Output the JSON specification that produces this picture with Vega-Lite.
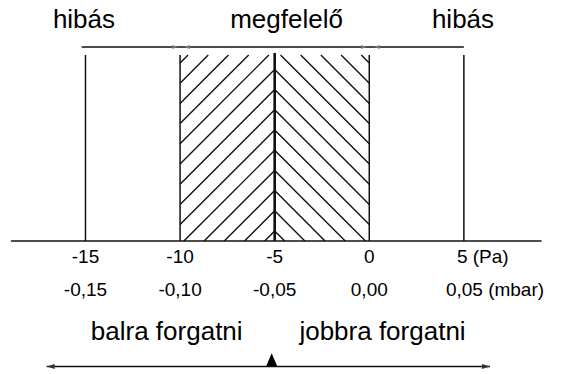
{
  "$schema": "https://vega.github.io/schema/vega-lite/v6.json",
  "width": 564,
  "height": 374,
  "padding": 0,
  "autosize": {"type": "none"},
  "background": "white",
  "config": {"view": {"stroke": null}},
  "datasets": {
    "lines": [
      {"part": "frame", "x": -18.94, "y": 0, "x2": 9.11, "y2": 0},
      {"part": "frame", "x": -15.2, "y": 194, "x2": 5.0, "y2": 194},
      {"part": "frame", "x": -15, "y": 0, "x2": -15, "y2": 186},
      {"part": "frame", "x": 5, "y": 0, "x2": 5, "y2": 186},
      {"part": "frame", "x": -10, "y": 0, "x2": -10, "y2": 186},
      {"part": "frame", "x": 0, "y": 0, "x2": 0, "y2": 186},
      {"part": "frame", "x": -17.05, "y": -125.5, "x2": 6.38, "y2": -125.5},
      {"part": "center", "x": -5, "y": 0, "x2": -5, "y2": 188}
    ],
    "hatch": [
      {"seg": "L0", "x": -5, "y": 10}, {"seg": "L0", "x": -5.529, "y": 0},
      {"seg": "L1", "x": -5, "y": 30.2}, {"seg": "L1", "x": -6.596, "y": 0},
      {"seg": "L2", "x": -5, "y": 50.4}, {"seg": "L2", "x": -7.664, "y": 0},
      {"seg": "L3", "x": -5, "y": 70.6}, {"seg": "L3", "x": -8.731, "y": 0},
      {"seg": "L4", "x": -5, "y": 90.8}, {"seg": "L4", "x": -9.799, "y": 0},
      {"seg": "L5", "x": -5, "y": 111}, {"seg": "L5", "x": -10, "y": 16.4},
      {"seg": "L6", "x": -5, "y": 131.2}, {"seg": "L6", "x": -10, "y": 36.6},
      {"seg": "L7", "x": -5, "y": 151.4}, {"seg": "L7", "x": -10, "y": 56.8},
      {"seg": "L8", "x": -5, "y": 171.6}, {"seg": "L8", "x": -10, "y": 77},
      {"seg": "L9", "x": -5.307, "y": 186}, {"seg": "L9", "x": -10, "y": 97.2},
      {"seg": "L10", "x": -6.374, "y": 186}, {"seg": "L10", "x": -10, "y": 117.4},
      {"seg": "L11", "x": -7.442, "y": 186}, {"seg": "L11", "x": -10, "y": 137.6},
      {"seg": "L12", "x": -8.51, "y": 186}, {"seg": "L12", "x": -10, "y": 157.8},
      {"seg": "L13", "x": -9.577, "y": 186}, {"seg": "L13", "x": -10, "y": 178},
      {"seg": "R0", "x": -5, "y": 10}, {"seg": "R0", "x": -4.471, "y": 0},
      {"seg": "R1", "x": -5, "y": 30.2}, {"seg": "R1", "x": -3.404, "y": 0},
      {"seg": "R2", "x": -5, "y": 50.4}, {"seg": "R2", "x": -2.336, "y": 0},
      {"seg": "R3", "x": -5, "y": 70.6}, {"seg": "R3", "x": -1.269, "y": 0},
      {"seg": "R4", "x": -5, "y": 90.8}, {"seg": "R4", "x": -0.201, "y": 0},
      {"seg": "R5", "x": -5, "y": 111}, {"seg": "R5", "x": 0, "y": 16.4},
      {"seg": "R6", "x": -5, "y": 131.2}, {"seg": "R6", "x": 0, "y": 36.6},
      {"seg": "R7", "x": -5, "y": 151.4}, {"seg": "R7", "x": 0, "y": 56.8},
      {"seg": "R8", "x": -5, "y": 171.6}, {"seg": "R8", "x": 0, "y": 77},
      {"seg": "R9", "x": -4.693, "y": 186}, {"seg": "R9", "x": 0, "y": 97.2},
      {"seg": "R10", "x": -3.626, "y": 186}, {"seg": "R10", "x": 0, "y": 117.4},
      {"seg": "R11", "x": -2.558, "y": 186}, {"seg": "R11", "x": 0, "y": 137.6},
      {"seg": "R12", "x": -1.49, "y": 186}, {"seg": "R12", "x": 0, "y": 157.8},
      {"seg": "R13", "x": -0.423, "y": 186}, {"seg": "R13", "x": 0, "y": 178}
    ],
    "texts": [
      {"role": "big", "label": "hibás", "x": -15.08, "y": 212.7},
      {"role": "big", "label": "megfelelő", "x": -4.375, "y": 212.7},
      {"role": "big", "label": "hibás", "x": 4.953, "y": 212.7},
      {"role": "big", "label": "balra forgatni", "x": -10.707, "y": -99},
      {"role": "big", "label": "jobbra forgatni", "x": 0.699, "y": -99},
      {"role": "tick", "label": "-15", "x": -15, "y": -22},
      {"role": "tick", "label": "-10", "x": -10, "y": -22},
      {"role": "tick", "label": "-5", "x": -5, "y": -22},
      {"role": "tick", "label": "0", "x": 0, "y": -22},
      {"role": "tick", "label": "-0,15", "x": -15, "y": -55},
      {"role": "tick", "label": "-0,10", "x": -10, "y": -55},
      {"role": "tick", "label": "-0,05", "x": -5, "y": -55},
      {"role": "tick", "label": "0,00", "x": 0, "y": -55},
      {"role": "pa", "label": "5 (Pa)", "x": 5, "y": -22},
      {"role": "mbar", "label": "0,05 (mbar)", "x": 5, "y": -55}
    ],
    "heads": [
      {"dir": "left", "x": -16.838, "y": -125.5},
      {"dir": "right", "x": 6.169, "y": -125.5},
      {"dir": "up", "x": -5.158, "y": -118.7},
      {"dir": "smallright", "x": -10.27, "y": 194},
      {"dir": "smallleft", "x": -9.63, "y": 194},
      {"dir": "smallright", "x": -0.28, "y": 194},
      {"dir": "smallleft", "x": 0.41, "y": 194}
    ]
  },
  "encoding": {
    "x": {"field": "x", "type": "quantitative", "scale": {"domain": [-19.518, 10.292], "nice": false, "zero": false}, "axis": null},
    "y": {"field": "y", "type": "quantitative", "scale": {"domain": [-133, 241], "nice": false, "zero": false}, "axis": null}
  },
  "layer": [
    {
      "data": {"name": "hatch"},
      "mark": {"type": "line", "strokeWidth": 1.4, "color": "#111111"},
      "encoding": {"detail": {"field": "seg", "type": "nominal"}}
    },
    {
      "data": {"name": "lines"},
      "transform": [{"filter": "datum.part === 'frame'"}],
      "mark": {"type": "rule", "strokeWidth": 1.5, "color": "#111111"},
      "encoding": {"x2": {"field": "x2"}, "y2": {"field": "y2"}}
    },
    {
      "data": {"name": "lines"},
      "transform": [{"filter": "datum.part === 'center'"}],
      "mark": {"type": "rule", "strokeWidth": 2.6, "color": "#111111"},
      "encoding": {"x2": {"field": "x2"}, "y2": {"field": "y2"}}
    },
    {
      "data": {"name": "heads"},
      "transform": [{"filter": "datum.dir === 'left'"}],
      "mark": {"type": "point", "filled": true, "color": "#333333", "opacity": 1, "size": 64, "shape": "M-1,0L1,-0.6L1,0.6Z"}
    },
    {
      "data": {"name": "heads"},
      "transform": [{"filter": "datum.dir === 'right'"}],
      "mark": {"type": "point", "filled": true, "color": "#333333", "opacity": 1, "size": 64, "shape": "M1,0L-1,-0.6L-1,0.6Z"}
    },
    {
      "data": {"name": "heads"},
      "transform": [{"filter": "datum.dir === 'up'"}],
      "mark": {"type": "point", "filled": true, "color": "#000000", "opacity": 1, "size": 169, "shape": "M-0.85,1L0,-1L0.85,1Z"}
    },
    {
      "data": {"name": "heads"},
      "transform": [{"filter": "datum.dir === 'smallright'"}],
      "mark": {"type": "point", "filled": true, "color": "#777777", "opacity": 1, "size": 30, "shape": "M1,0L-1,-0.7L-1,0.7Z"}
    },
    {
      "data": {"name": "heads"},
      "transform": [{"filter": "datum.dir === 'smallleft'"}],
      "mark": {"type": "point", "filled": true, "color": "#777777", "opacity": 1, "size": 30, "shape": "M-1,0L1,-0.7L1,0.7Z"}
    },
    {
      "data": {"name": "texts"},
      "transform": [{"filter": "datum.role === 'big'"}],
      "mark": {"type": "text", "font": "Liberation Sans", "fontSize": 26, "align": "center", "baseline": "alphabetic", "color": "#000000"},
      "encoding": {"text": {"field": "label"}}
    },
    {
      "data": {"name": "texts"},
      "transform": [{"filter": "datum.role === 'tick'"}],
      "mark": {"type": "text", "font": "Liberation Sans", "fontSize": 19, "align": "center", "baseline": "alphabetic", "color": "#000000"},
      "encoding": {"text": {"field": "label"}}
    },
    {
      "data": {"name": "texts"},
      "transform": [{"filter": "datum.role === 'pa'"}],
      "mark": {"type": "text", "font": "Liberation Sans", "fontSize": 19, "align": "left", "baseline": "alphabetic", "dx": -7, "color": "#000000"},
      "encoding": {"text": {"field": "label"}}
    },
    {
      "data": {"name": "texts"},
      "transform": [{"filter": "datum.role === 'mbar'"}],
      "mark": {"type": "text", "font": "Liberation Sans", "fontSize": 19, "align": "left", "baseline": "alphabetic", "dx": -18, "color": "#000000"},
      "encoding": {"text": {"field": "label"}}
    }
  ]
}
